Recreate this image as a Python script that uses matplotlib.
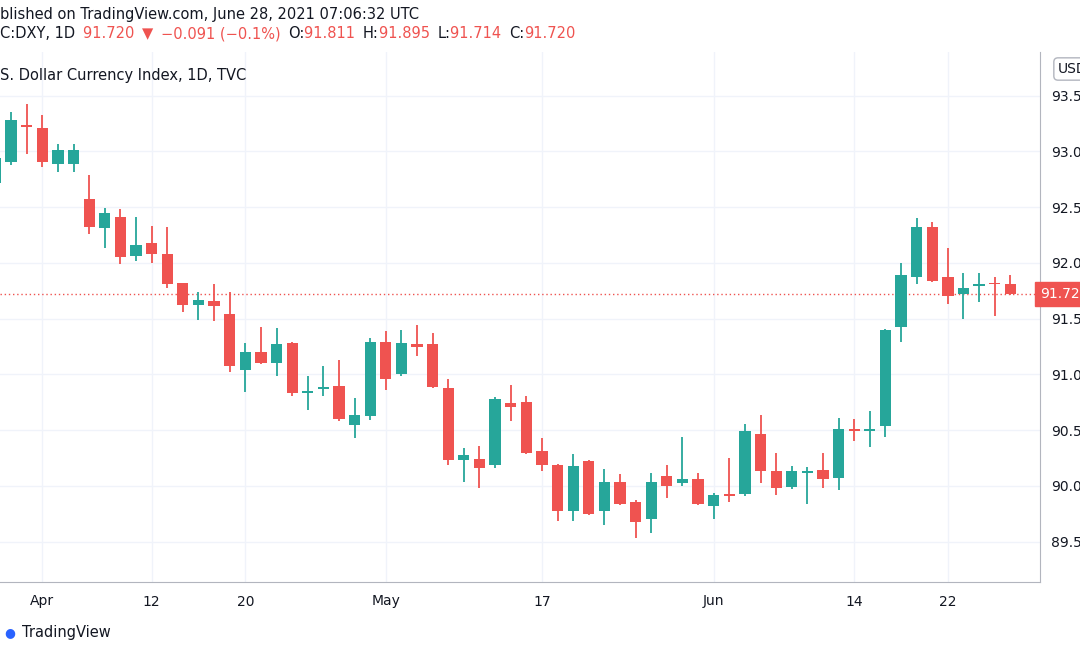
import matplotlib
matplotlib.use("Agg")
import matplotlib.pyplot as plt
from matplotlib.patches import Rectangle

dates = ["Mar29","Mar30","Mar31","Apr1","Apr2","Apr5","Apr6","Apr7","Apr8","Apr9","Apr12","Apr13","Apr14","Apr15","Apr16",
         "Apr19","Apr20","Apr21","Apr22","Apr23","Apr26","Apr27","Apr28","Apr29","Apr30","May3","May4","May5","May6","May7",
         "May10","May11","May12","May13","May14","May17","May18","May19","May20","May21","May24","May25","May26","May27","May28",
         "May31","Jun1","Jun2","Jun3","Jun4","Jun7","Jun8","Jun9","Jun10","Jun11","Jun14","Jun15","Jun16","Jun17","Jun18",
         "Jun21","Jun22","Jun23","Jun24","Jun25","Jun28"]
opens  = [92.72,92.91,93.24,93.21,92.89,92.89,92.57,92.31,92.41,92.06,92.18,92.08,91.82,91.62,91.66,
          91.54,91.04,91.20,91.10,91.28,90.83,90.87,90.90,90.55,90.63,91.29,91.00,91.27,91.27,90.88,
          90.23,90.24,90.19,90.74,90.75,90.31,90.19,89.78,90.22,89.78,90.04,89.86,89.70,90.09,90.03,
          90.06,89.82,89.93,89.93,90.47,90.13,89.99,90.12,90.14,90.07,90.51,90.49,90.54,91.43,91.87,
          92.32,91.87,91.72,91.79,91.82,91.811]
highs  = [92.97,93.35,93.43,93.33,93.07,93.07,92.79,92.49,92.48,92.41,92.33,92.32,91.82,91.74,91.81,
          91.74,91.28,91.43,91.42,91.29,90.99,91.08,91.13,90.79,91.33,91.39,91.40,91.44,91.37,90.96,
          90.34,90.36,90.80,90.91,90.81,90.43,90.20,90.29,90.23,90.15,90.11,89.87,90.12,90.19,90.44,
          90.12,89.94,90.25,90.56,90.64,90.30,90.18,90.17,90.30,90.61,90.60,90.67,91.41,92.00,92.40,
          92.37,92.13,91.91,91.91,91.87,91.895]
lows   = [92.70,92.88,92.98,92.86,92.82,92.82,92.26,92.13,91.99,92.02,92.00,91.78,91.56,91.49,91.48,
          91.02,90.84,91.09,90.99,90.81,90.68,90.81,90.58,90.43,90.59,90.86,90.99,91.17,90.88,90.19,
          90.04,89.98,90.16,90.58,90.29,90.13,89.69,89.69,89.74,89.65,89.83,89.53,89.58,89.89,90.00,
          89.83,89.70,89.86,89.91,90.03,89.92,89.97,89.84,89.98,89.96,90.40,90.35,90.44,91.29,91.81,
          91.83,91.63,91.50,91.65,91.52,91.714]
closes = [92.94,93.28,93.22,92.91,93.01,93.01,92.32,92.45,92.05,92.16,92.08,91.81,91.62,91.67,91.61,
          91.08,91.20,91.10,91.27,90.83,90.85,90.89,90.60,90.64,91.29,90.96,91.28,91.25,90.89,90.23,
          90.28,90.16,90.78,90.71,90.30,90.19,89.78,90.18,89.75,90.04,89.84,89.68,90.04,90.00,90.06,
          89.84,89.92,89.91,90.49,90.13,89.98,90.13,90.13,90.06,90.51,90.49,90.51,91.40,91.89,92.32,
          91.84,91.70,91.78,91.81,91.81,91.720]
tick_dates = ["Apr1","Apr12","Apr20","May3","May17","Jun1","Jun14","Jun22"]
tick_labels = ["Apr","12","20","May","17","Jun","14","22"]
price_ticks = [89.5,90.0,90.5,91.0,91.5,92.0,92.5,93.0,93.5]
last_price = 91.72

W, H = 1080, 654
GREEN, RED = "#26a69a", "#ef5350"
TXT = "#131722"
fig = plt.figure(figsize=(W/100, H/100), dpi=100)
ax = fig.add_axes([0, 1-582/H, 1040/W, (582-52)/H])
ax.set_xlim(0.29, 66.9)
ax.set_ylim(89.139, 93.892)
ax.grid(True, color="#f0f3fa", lw=1)
ax.set_axisbelow(True)
for s in ["top", "left"]:
    ax.spines[s].set_visible(False)
for s in ["right", "bottom"]:
    ax.spines[s].set_color("#b2b5be")
ax.tick_params(length=0)
ax.set_yticks(price_ticks)
ax.yaxis.tick_right()
ax.set_yticklabels([f"{p:.2f}" for p in price_ticks], color=TXT, fontsize=10)
ax.tick_params(axis="y", pad=8)
idx = {d: i for i, d in enumerate(dates)}
ax.set_xticks([idx[d] for d in tick_dates])
ax.set_xticklabels(tick_labels, color=TXT, fontsize=10)
ax.tick_params(axis="x", pad=9)

bw = 0.72
for i, (o, h, l, c) in enumerate(zip(opens, highs, lows, closes)):
    col = GREEN if c >= o else RED
    ax.vlines(i, l, h, color=col, lw=1.3, zorder=2)
    lo, hi = min(o, c), max(o, c)
    ax.add_patch(Rectangle((i - bw/2, lo), bw, max(hi - lo, 0.012), color=col, zorder=3, lw=0))

ax.axhline(last_price, color=RED, lw=1, ls=(0, (1, 2)), zorder=1)
ax.text(1.0, last_price, f"{last_price:.2f}", transform=ax.get_yaxis_transform(),
        ha="left", va="center", color="white", fontsize=10,
        bbox=dict(boxstyle="square,pad=0.35", fc=RED, ec=RED), clip_on=False)
ax.text(0, 0.97, "S. Dollar Currency Index, 1D, TVC", transform=ax.transAxes, fontsize=10.5,
        color=TXT, va="top")

fig.text(1058/W, 1-69/H, "USD", fontsize=10, color=TXT, va="center", ha="left",
         bbox=dict(boxstyle="round,pad=0.3", fc="white", ec="#b2b5be"))

fig.text(0, 1-14/H, "blished on TradingView.com, June 28, 2021 07:06:32 UTC", fontsize=10.5, color=TXT, va="center")

segs = [("C:DXY, 1D ", TXT), ("91.720 ", RED), ("▼ ", RED), ("−0.091 (−0.1%) ", RED),
        ("O:", TXT), ("91.811 ", RED), ("H:", TXT), ("91.895 ", RED), ("L:", TXT), ("91.714 ", RED),
        ("C:", TXT), ("91.720", RED)]
fig.canvas.draw()
r = fig.canvas.get_renderer()
x = 0.0
for s, c in segs:
    t = fig.text(x, 1-34/H, s, fontsize=10.5, color=c, va="center", fontweight="normal")
    bb = t.get_window_extent(renderer=r)
    x += bb.width / W + (3/W if s.endswith(" ") else 0)

fig.text(10/W, 1-633/H, "●", fontsize=9, color="#2962ff", va="center", ha="center")
fig.text(22/W, 1-633/H, "TradingView", fontsize=10.5, color=TXT, va="center")

fig.savefig("out.png", dpi=100, facecolor="white")
